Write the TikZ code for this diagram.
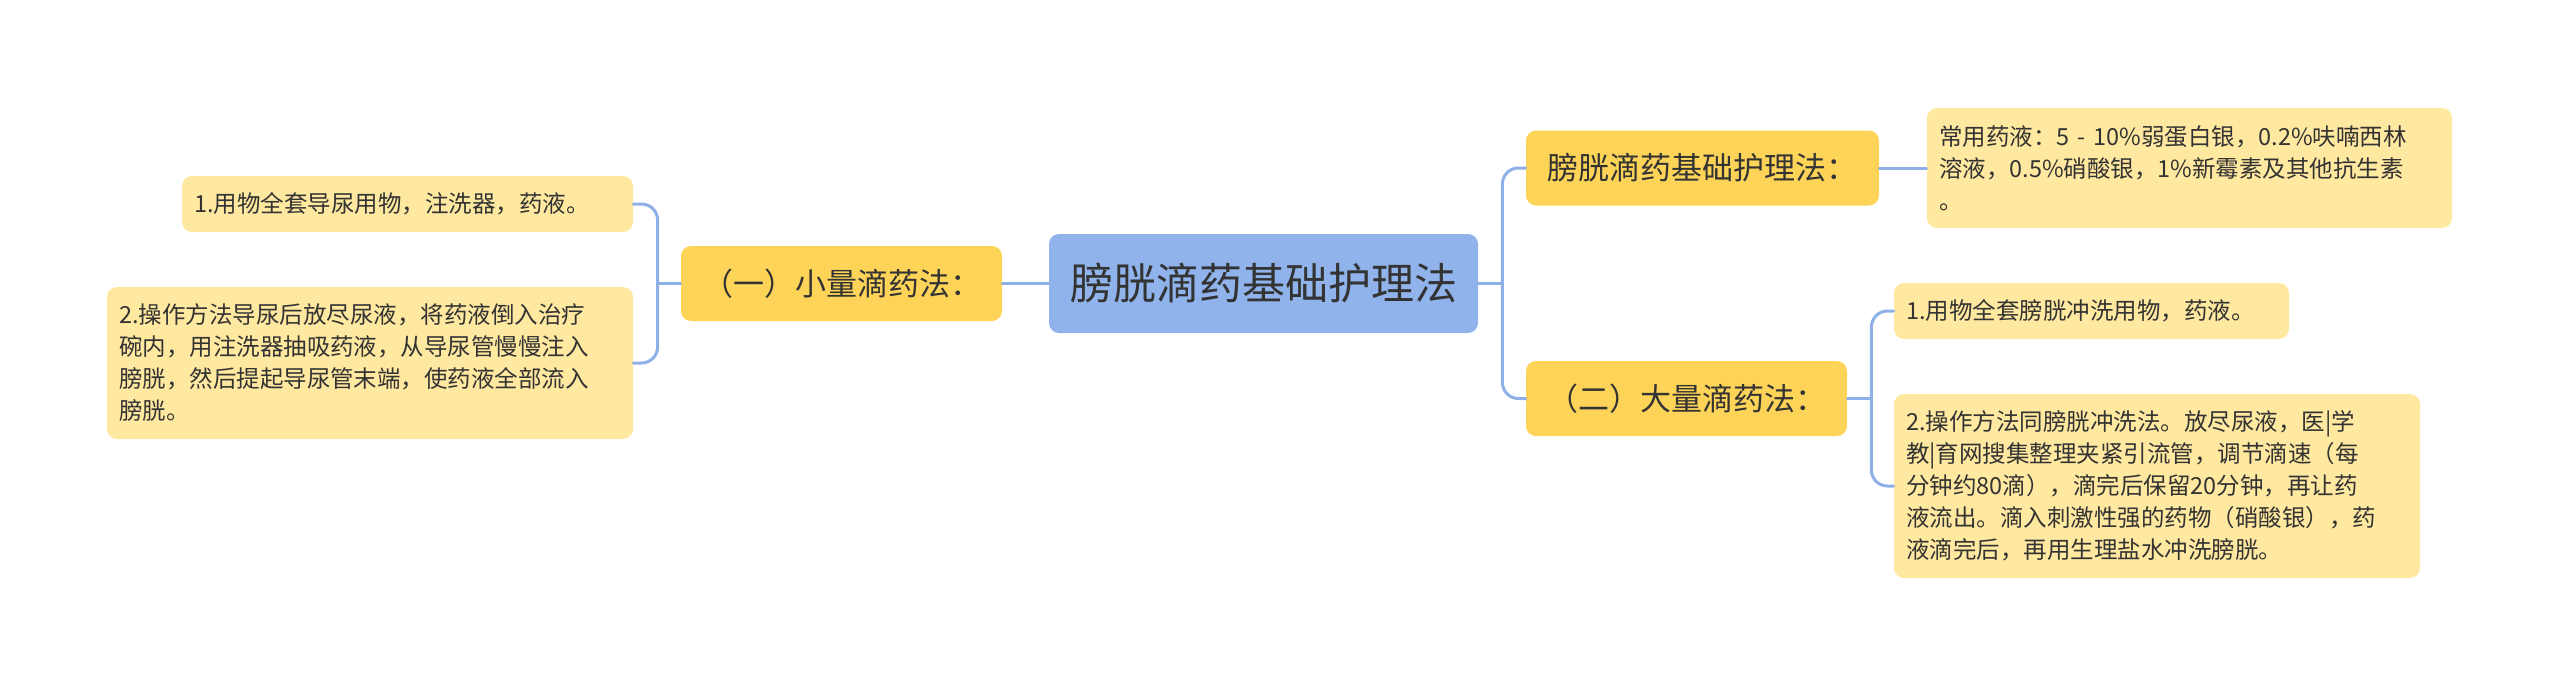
\documentclass[tikz,border=0pt]{standalone}
\usepackage{fontspec}
\setmainfont{Noto Sans CJK SC}
\definecolor{rootblue}{HTML}{8FB3EA}
\definecolor{linkblue}{HTML}{8EB0E6}
\definecolor{topicyellow}{HTML}{FDD458}
\definecolor{leafyellow}{HTML}{FFE8A0}
\definecolor{ink}{HTML}{333333}

\begin{document}
\begin{tikzpicture}[x=0.5pt, y=-0.5pt, line cap=round, line join=round,
    rootbox/.style={fill=rootblue, rounded corners=5pt, text=ink, inner sep=0pt,
        font=\fontsize{21.5}{26}\selectfont, minimum width=214.5pt, minimum height=49.5pt},
    topicbox/.style={fill=topicyellow, rounded corners=5pt, text=ink, inner sep=0pt,
        font=\fontsize{15.5}{19}\selectfont, minimum height=37.5pt},
    leafbox/.style={fill=leafyellow, rounded corners=5pt, text=ink, align=left,
        inner xsep=6pt, inner ysep=0pt, font=\fontsize{11.75}{16}\selectfont},
    link/.style={draw=linkblue, line width=1.5pt, rounded corners=8pt}]

    \useasboundingbox (0,0) rectangle (2560,687);

    \node[rootbox] (root) at (1263.5,283.5) {膀胱滴药基础护理法};

    \node[topicbox, minimum width=160.5pt] (ya) at (841.5,283.5) {（一）小量滴药法：};
    \node[topicbox, minimum width=176.5pt] (yb) at (1702.5,168) {膀胱滴药基础护理法：};
    \node[topicbox, minimum width=160.5pt] (yc) at (1686.5,398.5) {（二）大量滴药法：};

    \node[leafbox, text width=213.5pt, minimum height=28pt] (ll1) at (407.5,204)
        {1.用物全套导尿用物，注洗器，药液。};
    \node[leafbox, text width=251pt, minimum height=76pt] (ll2) at (370,363)
        {2.操作方法导尿后放尽尿液，将药液倒入治疗\\
         碗内，用注洗器抽吸药液，从导尿管慢慢注入\\
         膀胱，然后提起导尿管末端，使药液全部流入\\
         膀胱。};

    \node[leafbox, text width=250.5pt, minimum height=60pt] (rl0) at (2189.5,168)
        {常用药液：5 - 10\%弱蛋白银，0.2\%呋喃西林\\
         溶液，0.5\%硝酸银，1\%新霉素及其他抗生素\\
         。};
    \node[leafbox, text width=185.5pt, minimum height=28pt] (rl1) at (2091.5,311)
        {1.用物全套膀胱冲洗用物，药液。};
    \node[leafbox, text width=251pt, minimum height=92pt] (rl2) at (2157,486)
        {2.操作方法同膀胱冲洗法。放尽尿液，医|学\\
         教|育网搜集整理夹紧引流管，调节滴速（每\\
         分钟约80滴），滴完后保留20分钟，再让药\\
         液流出。滴入刺激性强的药物（硝酸银），药\\
         液滴完后，再用生理盐水冲洗膀胱。};

    \coordinate (jl) at ([xshift=-11.5pt]ya.west);
    \coordinate (jr) at ([xshift=12pt]root.east);
    \coordinate (jc) at ([xshift=12pt]yc.east);

    \draw[link] (root.west) -- (ya.east);
    \draw[link] (ya.west) -- (jl);
    \draw[link] (jl) |- (ll1.east);
    \draw[link] (jl) |- (ll2.east);

    \draw[link] (root.east) -- (jr);
    \draw[link] (jr) |- (yb.west);
    \draw[link] (jr) |- (yc.west);

    \draw[link] (yb.east) -- (rl0.west);
    \draw[link] (yc.east) -- (jc);
    \draw[link] (jc) |- (rl1.west);
    \draw[link] (jc) |- (rl2.west);

\end{tikzpicture}
\end{document}
